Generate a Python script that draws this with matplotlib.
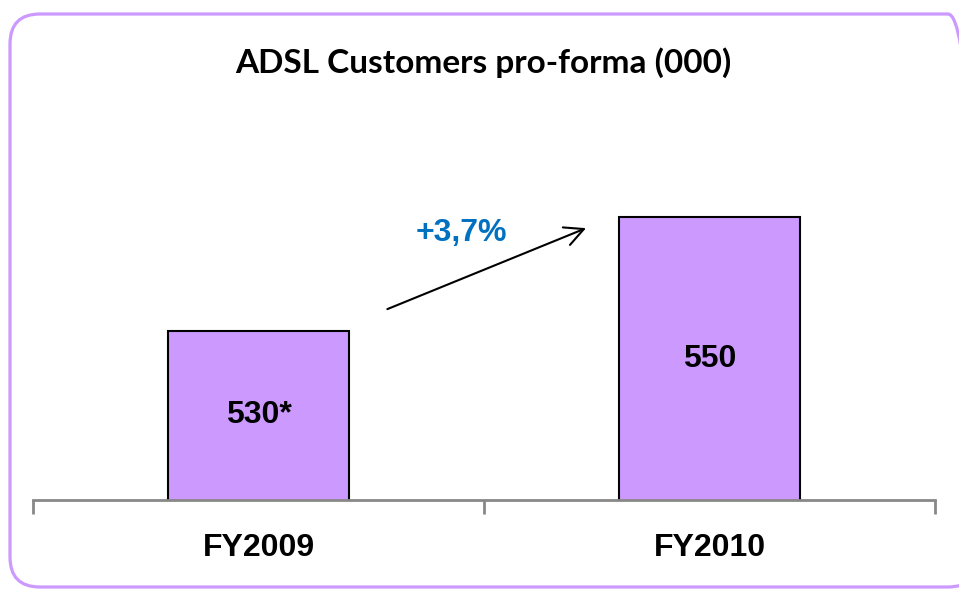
import matplotlib
matplotlib.use("Agg")
import matplotlib.pyplot as plt
from matplotlib.patches import FancyBboxPatch

categorie = ["FY2009", "FY2010"]
valori = [530, 550]
etichette = ["530*", "550"]
titolo = "ADSL Customers pro-forma (000)"
crescita = "+3,7%"

fig = plt.figure(figsize=(9.59, 5.90), dpi=100)

# cornice arrotondata
cornice = FancyBboxPatch((10, 3), 968, 573, boxstyle="round,pad=0,rounding_size=30",
                         transform=None, facecolor="none", edgecolor="#CC99FF",
                         linewidth=2.3, clip_on=False)
fig.patches.append(cornice)

ax = fig.add_axes([33/959, 90/590, 902/959, 339/590])
x = range(len(categorie))
ax.bar(x, valori, width=0.4, color="#CC99FF", edgecolor="black", linewidth=1.5, zorder=2)
ax.set_xlim(-0.5, 1.5)
ax.set_ylim(500, 560)

for i, v in enumerate(valori):
    ax.text(i, (500 + v) / 2, etichette[i], ha="center", va="center",
            fontsize=23, fontweight="bold", family="Liberation Sans")

# asse x con tacche
for s in ["top", "right", "left"]:
    ax.spines[s].set_visible(False)
ax.spines["bottom"].set_color("#888888")
ax.spines["bottom"].set_linewidth(2)
ax.set_yticks([])
ax.set_xticks([-0.5, 0.5, 1.5])
ax.set_xticklabels([])
ax.tick_params(axis="x", length=10, width=2, color="#888888")
for i, c in enumerate(categorie):
    ax.text(i, 491.5, c, ha="center", va="center", fontsize=23, fontweight="bold",
            family="Liberation Sans")

# freccia di crescita
ax.annotate("", xy=(0.732, 548.3), xytext=(0.28, 533.6),
            arrowprops=dict(arrowstyle="->", color="black", lw=1.5, mutation_scale=34))
ax.text(0.449, 547.3, crescita, ha="center", va="center", fontsize=23,
        fontweight="bold", color="#0070C0", family="Liberation Sans")

fig.text(483/959, 1 - 63/590, titolo, ha="center", va="center", fontsize=24,
         fontweight="bold", family="Lato")

fig.savefig("out.png", dpi=100)
